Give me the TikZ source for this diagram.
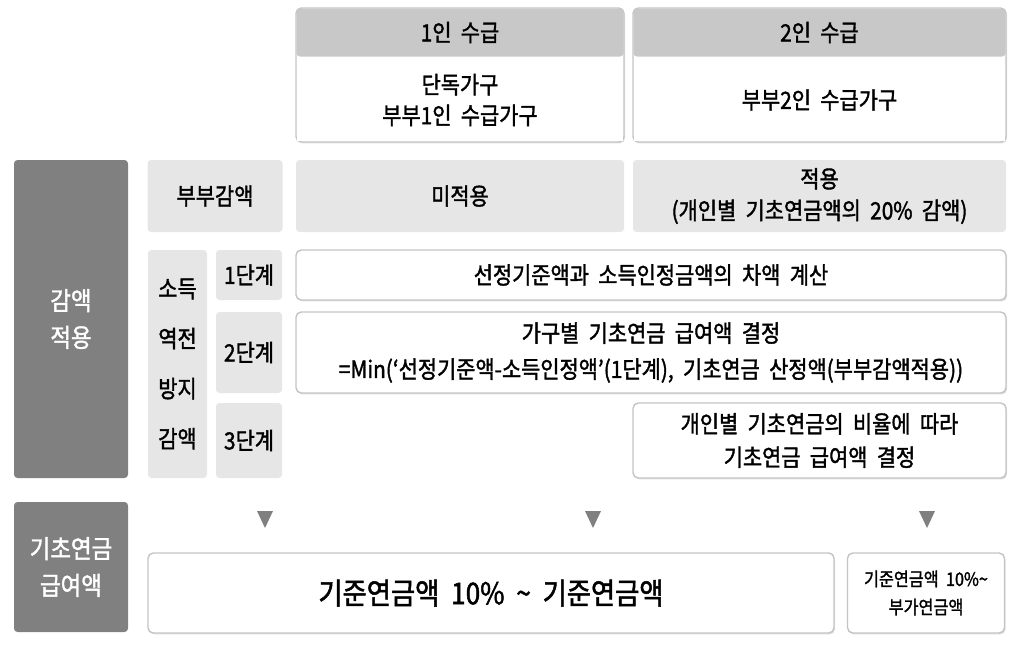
\documentclass[tikz,border=0pt]{standalone}
\usepackage{fontspec}
\setmainfont{Noto Sans CJK KR}[FakeStretch=0.88, FakeBold=1.6, WordSpace=2]
\usetikzlibrary{shadows}

\definecolor{darkgrey}{HTML}{808080}
\definecolor{headgrey}{HTML}{C8C8C8}
\definecolor{lightgrey}{HTML}{E6E6E6}
\definecolor{linegrey}{HTML}{C4C4C4}

\tikzset{
  wh/.style 2 args={minimum width=#1*0.02cm, minimum height=#2*0.02cm, inner sep=0pt},
  darkbox/.style={fill=darkgrey, rounded corners=2pt, text=white, align=center,
    font=\fontsize{14.5}{21}\selectfont},
  labelbox/.style={fill=lightgrey, rounded corners=2pt, align=center,
    font=\fontsize{13.5}{18}\selectfont},
  headbox/.style={fill=headgrey, rounded corners=2pt, align=center,
    font=\fontsize{13.5}{18}\selectfont},
  whitebox/.style={draw=linegrey, line width=0.8pt, fill=white, rounded corners=3pt, align=center,
    drop shadow={shadow xshift=0.6pt, shadow yshift=-0.8pt, fill=black!25},
    font=\fontsize{13.5}{18}\selectfont},
  body/.style={fill=white, align=center, font=\fontsize{13.5}{17.5}\selectfont}
}

\begin{document}
\begin{tikzpicture}[x=0.02cm, y=-0.02cm]
  \useasboundingbox (0,0) rectangle (1024,646);

  % Kopf: 1인 / 2인 수급
  \node[whitebox, wh={328}{134}] (col1) at (460,75) {};
  \node[whitebox, wh={373}{134}] (col2) at (819.5,75) {};
  \node[headbox, wh={327}{48}] (hd1) at (460,32.5) {1인 수급};
  \node[headbox, wh={372}{48}] (hd2) at (819.5,32.5) {2인 수급};
  \node[body, wh={326}{82}] (bd1) at (460,100) {단독가구\\부부1인 수급가구};
  \node[body, wh={371}{82}] (bd2) at (819.5,100) {부부2인 수급가구};

  % 감액 적용
  \node[darkbox, wh={114}{318}] (cut) at (71,319) {감액\\적용};
  \node[labelbox, wh={135}{72}] (couple) at (215,196) {부부감액};
  \node[labelbox, wh={328}{72}] (none) at (460,196) {미적용};
  \node[labelbox, wh={373}{72}] (apply) at (819.5,196) {적용\\(개인별 기초연금액의 20\% 감액)};

  % 소득역전방지감액
  \node[labelbox, wh={59}{228}, font=\fontsize{13.5}{28.5}\selectfont] (rev) at (177.5,364) {소득\\역전\\방지\\감액};
  \node[labelbox, wh={66}{50}] (st1) at (249,275) {1단계};
  \node[labelbox, wh={66}{81}] (st2) at (249,352.5) {2단계};
  \node[labelbox, wh={66}{75}] (st3) at (249,440.5) {3단계};
  \node[whitebox, wh={710}{50}] (tx1) at (651,275) {선정기준액과 소득인정금액의 차액 계산};
  \node[whitebox, wh={710}{81}, font=\fontsize{13.5}{20.5}\selectfont] (tx2) at (651,352.5)
    {가구별 기초연금 급여액 결정\\=Min(‘선정기준액-소득인정액’(1단계), 기초연금 산정액(부부감액적용))};
  \node[whitebox, wh={373}{75}, font=\fontsize{13.5}{19}\selectfont] (tx3) at (819.5,440.5)
    {개인별 기초연금의 비율에 따라\\기초연금 급여액 결정};

  % 기초연금 급여액
  \node[darkbox, wh={114}{130}] (pay) at (71,567) {기초연금\\급여액};
  \foreach \tx in {265,593,927}
    \fill[darkgrey] (\tx-8,511) -- (\tx+8,511) -- (\tx,528) -- cycle;
  \node[whitebox, wh={686}{80}, font=\fontsize{17}{22}\selectfont] (range) at (491,593) {기준연금액 10\% \textasciitilde{} 기준연금액};
  \node[whitebox, wh={157}{80}, font=\fontsize{10.5}{16}\selectfont] (extra) at (926,593) {기준연금액 10\%\textasciitilde\\부가연금액};

\end{tikzpicture}
\end{document}
